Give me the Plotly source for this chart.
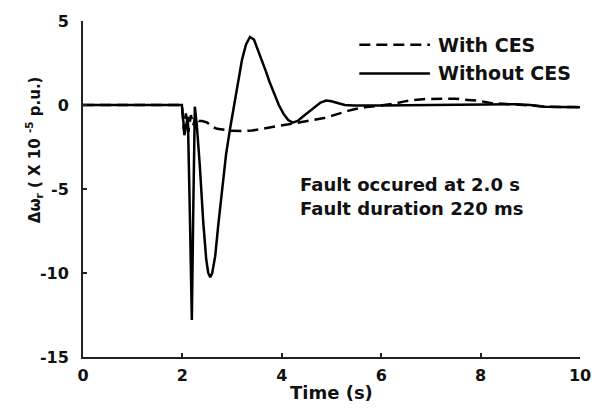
import plotly.graph_objects as go

# ---- data ----
t_without = [0, 1.99, 2.02, 2.04, 2.07, 2.11, 2.15, 2.19, 2.22, 2.25, 2.29, 2.35, 2.42, 2.48,
             2.52, 2.56, 2.6, 2.66, 2.72, 2.8, 2.88, 2.96, 3.04, 3.12, 3.2, 3.28, 3.36, 3.44, 3.52,
             3.6, 3.68, 3.75, 3.85, 3.94, 4.04, 4.13, 4.22, 4.32, 4.42, 4.55, 4.67, 4.78, 4.89,
             5.0, 5.14, 5.27, 5.45, 5.7, 6.0, 6.5, 7.0, 7.5, 8.0, 8.3, 8.7, 9.0, 9.3, 9.6, 10.0]
v_without = [0, 0, -1.0, -1.8, -1.3, -0.7, -6.5, -12.8, -6.0, -0.1, -1.2, -3.6, -7.0, -9.2,
             -10.0, -10.25, -10.0, -9.0, -7.2, -4.9, -2.9, -1.4, 0.0, 1.5, 2.7, 3.6, 4.05, 3.9,
             3.3, 2.6, 2.0, 1.4, 0.6, 0.0, -0.55, -0.9, -1.05, -0.95, -0.7, -0.4, -0.1, 0.15,
             0.27, 0.22, 0.1, 0.0, -0.03, -0.04, -0.03, -0.02, 0.0, 0.0, 0.02, 0.05, 0.05, 0.0,
             -0.1, -0.12, -0.13]

t_with = [0, 1.99, 2.03, 2.07, 2.12, 2.17, 2.22, 2.27, 2.33, 2.4, 2.5, 2.6, 2.7, 2.85, 3.0,
          3.2, 3.4, 3.6, 3.8, 4.0, 4.2, 4.45, 4.67, 4.85, 5.0, 5.15, 5.33, 5.5, 5.7, 5.95,
          6.15, 6.3, 6.45, 6.65, 6.9, 7.2, 7.5, 7.75, 7.97, 8.2, 8.5, 8.8, 9.1, 9.3, 10.0]
v_with = [0, 0, -1.5, -0.5, -1.6, -0.6, -1.2, -0.6, -0.95, -0.95, -1.05, -1.3, -1.42, -1.5,
          -1.54, -1.55, -1.52, -1.42, -1.32, -1.22, -1.1, -1.0, -0.9, -0.78, -0.65, -0.5,
          -0.35, -0.22, -0.12, -0.05, 0.02, 0.1, 0.2, 0.3, 0.36, 0.38, 0.37, 0.3, 0.25, 0.12,
          0.07, 0.04, -0.05, -0.11, -0.12]

series_names = ["With CES", "Without CES"]
x_ticks = [0, 2, 4, 6, 8, 10]
y_ticks = [-15, -10, -5, 0, 5]
note_lines = ["Fault occured at 2.0 s", "Fault duration 220 ms"]

TXT = "DejaVu Sans"

fig = go.Figure()
fig.add_trace(go.Scatter(x=t_with, y=v_with, mode="lines", name=series_names[0],
                         line=dict(color="black", width=2.5, dash="11px,6px")))
fig.add_trace(go.Scatter(x=t_without, y=v_without, mode="lines", name=series_names[1],
                         line=dict(color="black", width=2.5)))

axis_common = dict(showgrid=False, zeroline=False, showline=True, linecolor="#222",
                   linewidth=2, ticks="inside", ticklen=4, tickwidth=1.5, tickcolor="#222",
                   tickfont=dict(family=TXT, size=16, color="#111", weight=700))
fig.update_xaxes(range=[0, 10], tickvals=x_ticks,
                 ticktext=[str(v) for v in x_ticks], ticklabelstandoff=3, **axis_common)
fig.update_yaxes(range=[-15, 5], tickvals=y_ticks,
                 ticktext=[str(v) for v in y_ticks], ticklabelstandoff=9, **axis_common)

# legend drawn manually (long line samples as in the reference)
leg = [(0.929, "dash", series_names[0]), (0.844, "solid", series_names[1])]
for yy, dsh, name in leg:
    fig.add_shape(type="line", xref="paper", yref="paper", x0=0.556, x1=0.698, y0=yy, y1=yy,
                  line=dict(color="black", width=2.5, dash="11px,6px" if dsh == "dash" else "solid"))
    fig.add_annotation(xref="paper", yref="paper", x=0.710, y=yy, text="<b>%s</b>" % name,
                       showarrow=False, xanchor="left", yanchor="middle",
                       font=dict(family=TXT, size=19, color="#111"))

for yy, line in zip([0.512, 0.442], note_lines):
    fig.add_annotation(xref="paper", yref="paper", x=0.432, y=yy, text="<b>%s</b>" % line,
                       showarrow=False, xanchor="left", yanchor="middle",
                       font=dict(family=TXT, size=18, color="#111"))

fig.add_annotation(xref="paper", yref="paper", x=0.501, y=-0.106, text="<b>Time (s)</b>",
                   showarrow=False, xanchor="center", yanchor="middle",
                   font=dict(family=TXT, size=18, color="#111"))
fig.add_annotation(xref="paper", yref="paper", x=-0.099, y=0.618,
                   text="<b>Δω<sub>r</sub> ( X 10 <sup>-5</sup> p.u.)</b>", textangle=-90,
                   showarrow=False, xanchor="center", yanchor="middle",
                   font=dict(family=TXT, size=15, color="#111"))

fig.update_layout(width=603, height=409, margin=dict(l=83, r=13, t=17, b=52),
                  paper_bgcolor="white", plot_bgcolor="white", showlegend=False)

fig.write_html("out.html")
